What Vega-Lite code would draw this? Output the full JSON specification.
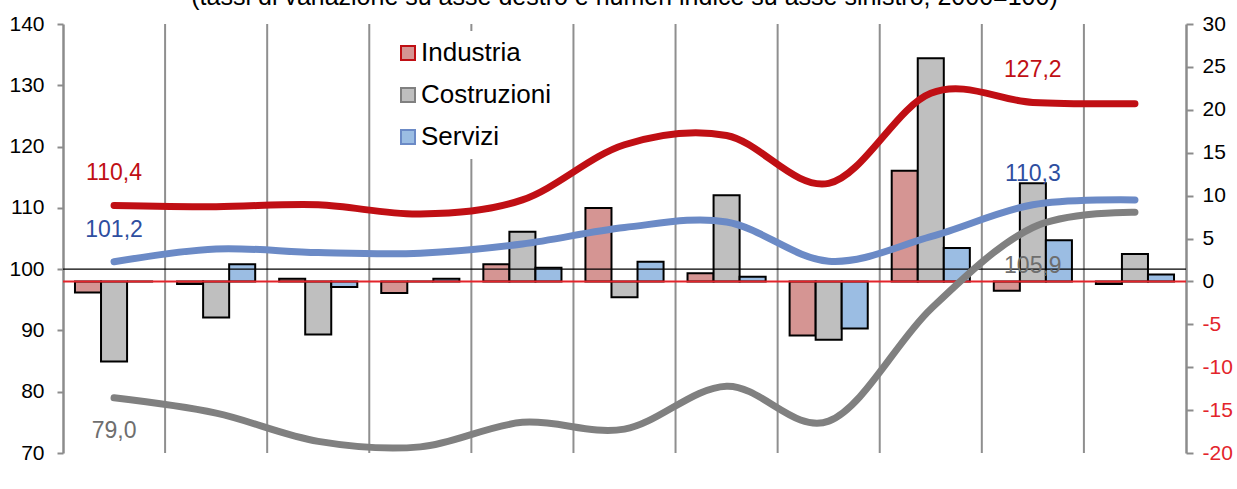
{
  "$schema": "https://vega.github.io/schema/vega-lite/v6.json",
  "width": 1123,
  "height": 429,
  "autosize": {"type": "none"},
  "padding": {"left": 63, "top": 24, "right": 51, "bottom": 36},
  "background": "white",
  "config": {"font": "Liberation Sans", "view": {"stroke": null}},
  "title": {
    "text": "(tassi di variazione su asse destro e numeri indice su asse sinistro; 2000=100)",
    "fontSize": 25, "fontWeight": "normal", "color": "black",
    "anchor": "middle", "frame": "group", "baseline": "alphabetic", "offset": 0, "dy": 17
  },
  "datasets": {
    "tassi": [
      {"anno": "2013", "settore": "Industria", "tasso": -1.3},
      {"anno": "2013", "settore": "Costruzioni", "tasso": -9.35},
      {"anno": "2013", "settore": "Servizi", "tasso": 0.0},
      {"anno": "2014", "settore": "Industria", "tasso": -0.3},
      {"anno": "2014", "settore": "Costruzioni", "tasso": -4.2},
      {"anno": "2014", "settore": "Servizi", "tasso": 2.0},
      {"anno": "2015", "settore": "Industria", "tasso": 0.3},
      {"anno": "2015", "settore": "Costruzioni", "tasso": -6.2},
      {"anno": "2015", "settore": "Servizi", "tasso": -0.65},
      {"anno": "2016", "settore": "Industria", "tasso": -1.35},
      {"anno": "2016", "settore": "Costruzioni", "tasso": 0.0},
      {"anno": "2016", "settore": "Servizi", "tasso": 0.3},
      {"anno": "2017", "settore": "Industria", "tasso": 2.0},
      {"anno": "2017", "settore": "Costruzioni", "tasso": 5.8},
      {"anno": "2017", "settore": "Servizi", "tasso": 1.6},
      {"anno": "2018", "settore": "Industria", "tasso": 8.55},
      {"anno": "2018", "settore": "Costruzioni", "tasso": -1.85},
      {"anno": "2018", "settore": "Servizi", "tasso": 2.3},
      {"anno": "2019", "settore": "Industria", "tasso": 0.95},
      {"anno": "2019", "settore": "Costruzioni", "tasso": 10.05},
      {"anno": "2019", "settore": "Servizi", "tasso": 0.55},
      {"anno": "2020", "settore": "Industria", "tasso": -6.3},
      {"anno": "2020", "settore": "Costruzioni", "tasso": -6.8},
      {"anno": "2020", "settore": "Servizi", "tasso": -5.5},
      {"anno": "2021", "settore": "Industria", "tasso": 12.9},
      {"anno": "2021", "settore": "Costruzioni", "tasso": 26.0},
      {"anno": "2021", "settore": "Servizi", "tasso": 3.9},
      {"anno": "2022", "settore": "Industria", "tasso": -1.1},
      {"anno": "2022", "settore": "Costruzioni", "tasso": 11.45},
      {"anno": "2022", "settore": "Servizi", "tasso": 4.8},
      {"anno": "2023", "settore": "Industria", "tasso": -0.3},
      {"anno": "2023", "settore": "Costruzioni", "tasso": 3.2},
      {"anno": "2023", "settore": "Servizi", "tasso": 0.8}
    ],
    "indici": [
      {"anno": "2013", "settore": "Costruzioni", "indice": 79.0},
      {"anno": "2014", "settore": "Costruzioni", "indice": 76.5},
      {"anno": "2015", "settore": "Costruzioni", "indice": 71.9},
      {"anno": "2016", "settore": "Costruzioni", "indice": 71.0},
      {"anno": "2017", "settore": "Costruzioni", "indice": 75.0},
      {"anno": "2018", "settore": "Costruzioni", "indice": 73.9},
      {"anno": "2019", "settore": "Costruzioni", "indice": 80.9},
      {"anno": "2020", "settore": "Costruzioni", "indice": 75.2},
      {"anno": "2021", "settore": "Costruzioni", "indice": 93.5},
      {"anno": "2022", "settore": "Costruzioni", "indice": 106.8},
      {"anno": "2023", "settore": "Costruzioni", "indice": 109.3},
      {"anno": "2013", "settore": "Servizi", "indice": 101.2},
      {"anno": "2014", "settore": "Servizi", "indice": 103.3},
      {"anno": "2015", "settore": "Servizi", "indice": 102.7},
      {"anno": "2016", "settore": "Servizi", "indice": 102.6},
      {"anno": "2017", "settore": "Servizi", "indice": 104.1},
      {"anno": "2018", "settore": "Servizi", "indice": 106.8},
      {"anno": "2019", "settore": "Servizi", "indice": 107.7},
      {"anno": "2020", "settore": "Servizi", "indice": 101.3},
      {"anno": "2021", "settore": "Servizi", "indice": 105.3},
      {"anno": "2022", "settore": "Servizi", "indice": 110.5},
      {"anno": "2023", "settore": "Servizi", "indice": 111.3},
      {"anno": "2013", "settore": "Industria", "indice": 110.4},
      {"anno": "2014", "settore": "Industria", "indice": 110.2},
      {"anno": "2015", "settore": "Industria", "indice": 110.5},
      {"anno": "2016", "settore": "Industria", "indice": 109.0},
      {"anno": "2017", "settore": "Industria", "indice": 111.3},
      {"anno": "2018", "settore": "Industria", "indice": 120.3},
      {"anno": "2019", "settore": "Industria", "indice": 121.8},
      {"anno": "2020", "settore": "Industria", "indice": 114.0},
      {"anno": "2021", "settore": "Industria", "indice": 128.7},
      {"anno": "2022", "settore": "Industria", "indice": 127.2},
      {"anno": "2023", "settore": "Industria", "indice": 127.0}
    ],
    "etichette": [
      {"anno": "2013", "settore": "Industria", "valore": 110.4, "testo": "110,4"},
      {"anno": "2013", "settore": "Servizi", "valore": 101.2, "testo": "101,2"},
      {"anno": "2013", "settore": "Costruzioni", "valore": 79.0, "testo": "79,0"},
      {"anno": "2022", "settore": "Industria", "valore": 127.2, "testo": "127,2"},
      {"anno": "2022", "settore": "Servizi", "valore": 110.3, "testo": "110,3"},
      {"anno": "2022", "settore": "Costruzioni", "valore": 105.9, "testo": "105,9"}
    ]
  },
  "layer": [
    {
      "layer": [
        {
          "data": {"name": "tassi"},
          "transform": [{"filter": "datum.settore === 'Industria' && datum.anno !== '2013'"}],
          "mark": {"type": "rule", "color": "#8f8f8f", "strokeWidth": 2},
          "encoding": {
            "x": {"field": "anno", "type": "nominal", "bandPosition": 0, "scale": {"paddingInner": 0, "paddingOuter": 0}, "axis": null}
          }
        },
        {
          "data": {"name": "tassi"},
          "mark": {"type": "bar", "stroke": "black", "strokeWidth": 2},
          "encoding": {
            "x": {
              "field": "anno", "type": "nominal",
              "scale": {"paddingInner": 0, "paddingOuter": 0},
              "axis": {
                "title": null, "labelAngle": 0, "labelFontSize": 21, "labelColor": "black",
                "domain": false, "ticks": false, "tickSize": 0, "labelPadding": 13, "grid": false
              }
            },
            "xOffset": {
              "field": "settore", "type": "nominal",
              "sort": ["Industria", "Costruzioni", "Servizi"],
              "scale": {"paddingInner": 0, "paddingOuter": 0.46}
            },
            "y": {
              "field": "tasso", "type": "quantitative",
              "scale": {"domain": [-20, 30], "nice": false},
              "axis": {
                "orient": "right", "title": null,
                "values": [-20, -15, -10, -5, 0, 5, 10, 15, 20, 25, 30],
                "labelExpr": "datum.value < 0 ? '-' + abs(datum.value) : '' + datum.value",
                "labelFontSize": 21,
                "labelColor": {"condition": {"test": "datum.value < 0", "value": "#e3242b"}, "value": "black"},
                "domainColor": "#8c8c8c", "domainWidth": 2.5,
                "tickColor": "#8c8c8c", "tickWidth": 2, "tickSize": 7,
                "labelPadding": 9, "grid": false
              }
            },
            "fill": {
              "field": "settore", "type": "nominal",
              "scale": {"domain": ["Industria", "Costruzioni", "Servizi"], "range": ["#d59593", "#bfbfbf", "#9bbde3"]},
              "legend": {
                "orient": "none", "legendX": 323, "legendY": 7, "title": null,
                "labelFontSize": 26, "labelColor": "black",
                "symbolType": "square", "symbolSize": 196,
                "symbolStrokeColor": "black", "symbolStrokeWidth": 2, "symbolOpacity": 1,
                "rowPadding": 16, "labelOffset": 0, "fillColor": "white", "padding": 9,
                "encode": {"symbols": {"update": {"stroke": {"value": "black"}, "strokeWidth": {"value": 2}}}}
              }
            }
          }
        },
        {
          "data": {"values": [{}]},
          "mark": {"type": "rule", "color": "#e3242b", "strokeWidth": 2},
          "encoding": {"y": {"datum": 0, "type": "quantitative"}}
        }
      ]
    },
    {
      "layer": [
        {
          "data": {"values": [{}]},
          "mark": {"type": "rule", "color": "black", "strokeWidth": 1.2},
          "encoding": {"y": {"datum": 100, "type": "quantitative"}}
        },
        {
          "data": {"name": "indici"},
          "mark": {"type": "line", "interpolate": "cardinal", "strokeWidth": 7, "strokeCap": "round"},
          "encoding": {
            "x": {"field": "anno", "type": "nominal", "scale": {"paddingInner": 0, "paddingOuter": 0}, "axis": null},
            "y": {
              "field": "indice", "type": "quantitative",
              "scale": {"domain": [70, 140], "nice": false, "zero": false},
              "axis": {
                "orient": "left", "title": null,
                "values": [70, 80, 90, 100, 110, 120, 130, 140],
                "labelFontSize": 21, "labelColor": "black",
                "domainColor": "#8c8c8c", "domainWidth": 2.5,
                "tickColor": "#8c8c8c", "tickWidth": 2, "tickSize": 6,
                "labelPadding": 13, "grid": false
              }
            },
            "color": {
              "field": "settore", "type": "nominal",
              "scale": {"domain": ["Industria", "Costruzioni", "Servizi"], "range": ["#c00f14", "#808080", "#6b8ac6"]},
              "legend": null
            }
          }
        },
        {
          "data": {"name": "etichette"},
          "transform": [{"filter": "datum.settore === 'Industria'"}],
          "mark": {"type": "text", "fontSize": 23, "color": "#c00f14", "dy": -32, "baseline": "middle", "align": "center"},
          "encoding": {
            "x": {"field": "anno", "type": "nominal", "scale": {"paddingInner": 0, "paddingOuter": 0}, "axis": null},
            "y": {"field": "valore", "type": "quantitative"},
            "text": {"field": "testo"}
          }
        },
        {
          "data": {"name": "etichette"},
          "transform": [{"filter": "datum.settore === 'Servizi'"}],
          "mark": {"type": "text", "fontSize": 23, "color": "#2e4ea0", "dy": -32, "baseline": "middle", "align": "center"},
          "encoding": {
            "x": {"field": "anno", "type": "nominal", "scale": {"paddingInner": 0, "paddingOuter": 0}, "axis": null},
            "y": {"field": "valore", "type": "quantitative"},
            "text": {"field": "testo"}
          }
        },
        {
          "data": {"name": "etichette"},
          "transform": [{"filter": "datum.settore === 'Costruzioni'"}],
          "mark": {"type": "text", "fontSize": 23, "color": "#6e6e6e", "dy": 33, "baseline": "middle", "align": "center"},
          "encoding": {
            "x": {"field": "anno", "type": "nominal", "scale": {"paddingInner": 0, "paddingOuter": 0}, "axis": null},
            "y": {"field": "valore", "type": "quantitative"},
            "text": {"field": "testo"}
          }
        }
      ]
    }
  ],
  "resolve": {"scale": {"y": "independent"}}
}
